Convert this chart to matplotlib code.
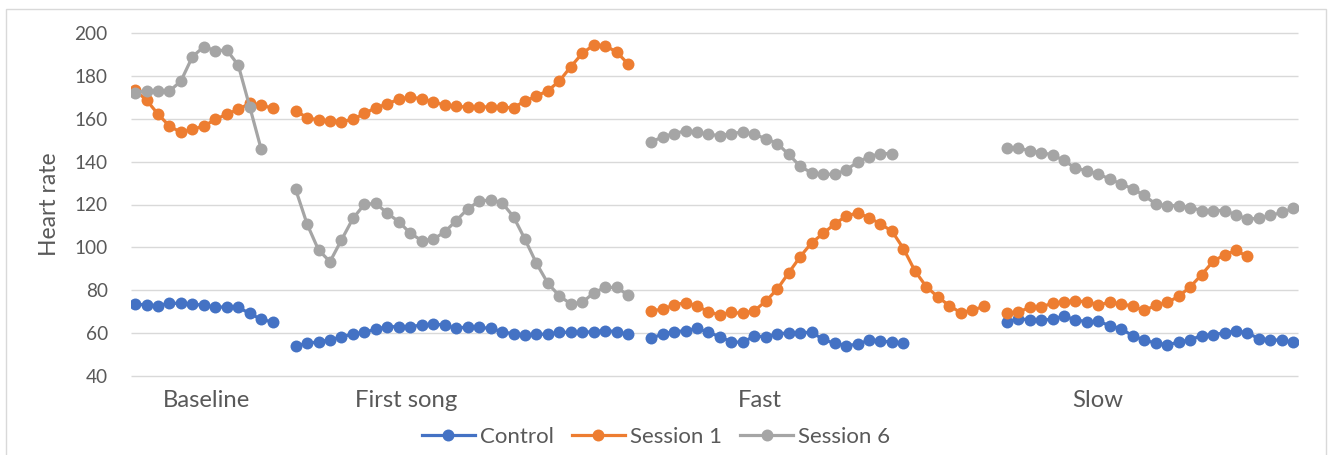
import matplotlib
matplotlib.use("Agg")
import matplotlib.pyplot as plt
import matplotlib.transforms as mtransforms
from matplotlib.patches import Rectangle
import numpy as np

plt.rcParams['font.family'] = ['Lato', 'DejaVu Sans']

# category groups and how many slots each group takes on the x axis
groups = ["Baseline", "First song", "Fast", "Slow"]
group_len = [13, 30, 30, 26]
group_label_x = [6.25, 23.6, 54.5, 83.9]

# heart rate per group
control = [
    [73.7, 73.2, 72.9, 74.0, 74.0, 73.5, 73.2, 72.1, 72.4, 72.1, 69.3, 66.5, 65.3],
    [54.1, 55.3, 56.1, 56.9, 58.4, 59.7, 60.5, 61.9, 63.1, 63.1, 63.1, 63.9, 64.3, 63.9, 62.3,
     63.1, 62.8, 62.3, 60.8, 59.7, 59.4, 59.5, 59.7, 60.5, 60.5, 60.5, 60.8, 61.3, 60.8, 59.5],
    [57.7, 59.7, 60.8, 61.2, 62.3, 60.5, 58.4, 56.1, 55.8, 58.8, 58.4, 59.7, 60.3, 60.3, 60.5,
     57.2, 55.3, 54.3, 54.9, 56.9, 56.6, 55.8, 55.7],
    [65.3, 66.7, 66.4, 66.0, 66.7, 67.9, 66.4, 65.3, 65.6, 63.6, 62.0, 58.9, 56.8, 55.5, 54.7,
     55.8, 57.0, 58.9, 59.4, 60.2, 61.2, 60.2, 57.5, 57.0, 56.8, 55.8],
]
session1 = [
    [173.3, 168.6, 162.1, 156.5, 153.6, 155.0, 156.5, 159.6, 162.1, 164.3, 167.1, 166.3, 164.8],
    [163.7, 160.4, 159.3, 159.0, 158.6, 159.6, 162.4, 165.1, 166.8, 169.1, 169.9, 169.3, 167.7,
     166.3, 165.9, 165.2, 165.4, 165.5, 165.2, 165.1, 168.2, 170.5, 173.0, 177.5, 184.2, 190.4,
     194.3, 193.9, 191.0, 185.4],
    [70.5, 71.2, 73.2, 74.3, 72.7, 70.1, 68.5, 69.8, 69.3, 70.5, 75.0, 80.6, 88.2, 95.7, 102.2,
     106.5, 110.9, 114.6, 116.1, 113.9, 110.9, 107.6, 99.5, 89.1, 81.7, 77.0, 72.9, 69.6, 70.7, 72.6],
    [69.5, 69.8, 72.1, 72.2, 74.1, 74.6, 75.2, 74.6, 73.3, 74.4, 73.8, 72.6, 70.7, 73.0, 74.4,
     77.2, 81.6, 87.3, 93.5, 96.6, 98.6, 95.8],
]
session6 = [
    [172.1, 173.0, 172.8, 172.8, 177.5, 188.8, 193.5, 191.6, 191.9, 184.9, 165.5, 145.7],
    [127.1, 110.9, 98.8, 93.4, 103.5, 113.5, 120.1, 120.5, 115.9, 112.0, 106.6, 103.2, 103.8,
     107.2, 112.5, 117.9, 121.6, 122.1, 120.8, 114.3, 103.8, 92.6, 83.3, 77.4, 73.7, 74.4, 78.9,
     81.4, 81.4, 77.7],
    [149.1, 151.5, 153.0, 154.3, 153.8, 152.6, 152.1, 153.0, 153.8, 152.6, 150.7, 148.4, 143.3,
     137.8, 134.7, 134.1, 134.1, 136.0, 139.8, 142.2, 143.7, 143.7],
    [146.2, 146.2, 145.1, 144.2, 143.1, 140.5, 136.9, 135.7, 134.1, 131.9, 129.5, 127.3, 124.2,
     120.2, 119.4, 119.5, 118.6, 117.2, 117.2, 117.2, 115.2, 113.2, 113.6, 114.9, 116.3, 118.3],
]
series_names = ["Control", "Session 1", "Session 6"]
colors = ["#4472C4", "#ED7D31", "#A5A5A5"]
y_ticks = [40, 60, 80, 100, 120, 140, 160, 180, 200]


def flatten(parts):
    # pad each group to its slot count, blank slot between groups
    out = []
    for i, (vals, n) in enumerate(zip(parts, group_len)):
        out += list(vals) + [np.nan] * (n - len(vals))
        if i < len(parts) - 1:
            out.append(np.nan)
    return np.array(out, dtype=float)


W, H = 1338, 455
fig = plt.figure(figsize=(W / 100, H / 100), dpi=100)
ax = fig.add_axes([130.7 / W, (H - 376.3) / H, 1167 / W, 343.6 / H])

# chart border
fig.patches.append(Rectangle((6 / W, -0.01), 1319.5 / W, (H - 9) / H + 0.01,
                             transform=fig.transFigure, fill=False,
                             edgecolor="#D9D9D9", lw=1.0, zorder=0))

for name, parts, c in zip(series_names, [control, session1, session6], colors):
    y = flatten(parts)
    x = np.arange(len(y))
    ax.plot(x, y, color=c, lw=2.3, marker="o", markersize=8.6,
            markeredgewidth=0, label=name, zorder=3)

n_slots = sum(group_len) + len(group_len) - 1
ax.set_xlim(-0.38, n_slots - 1 + 0.38)
ax.set_ylim(40, 200)
ax.hlines(y_ticks, -0.38, n_slots - 1 + 0.38, color="#D9D9D9", lw=1.0,
          clip_on=False, zorder=1)

for s in ax.spines.values():
    s.set_visible(False)
ax.set_yticks(y_ticks)
ax.set_xticks([])
ax.tick_params(axis="y", length=0, pad=16.5, labelsize=13.7, labelcolor="#595959")

trans = mtransforms.blended_transform_factory(ax.transData, ax.transAxes)
for lab, xp in zip(groups, group_label_x):
    ax.text(xp, -0.0885, lab, transform=trans, ha="center", va="baseline",
            fontsize=17.2, color="#595959")

ax.text(-0.07, 0.5, "Heart rate", transform=ax.transAxes, rotation=90,
        ha="center", va="center", fontsize=16.5, color="#595959")

leg = fig.legend(loc="center", bbox_to_anchor=(656 / W, (H - 437) / H), ncol=3,
                 frameon=False, fontsize=16, handlelength=2.4, handletextpad=0.23,
                 columnspacing=0.8, borderpad=0)
for t in leg.get_texts():
    t.set_color("#595959")

fig.savefig("out.png", dpi=100)
